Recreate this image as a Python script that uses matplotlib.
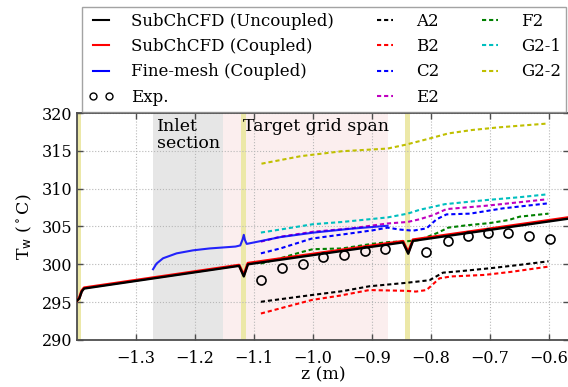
import matplotlib
matplotlib.use("Agg")
import matplotlib.pyplot as plt
from matplotlib.lines import Line2D

plt.rcParams['font.family'] = ['DejaVu Serif', 'DejaVu Sans']
plt.rcParams['mathtext.default'] = 'regular'

# ---------------- data ----------------
z_sub = [-1.400, -1.396, -1.392, -1.388, -1.125, -1.117, -1.110, -0.847, -0.838, -0.830, -0.565]
T_uncoupled = [295.2, 295.5, 296.4, 296.8, 299.8, 298.4, 300.0, 302.9, 301.4, 303.1, 306.05]
T_coupled = [295.2, 295.6, 296.5, 296.9, 299.9, 298.6, 300.15, 303.05, 301.6, 303.25, 306.2]

z_fine = [-1.271, -1.265, -1.254, -1.231, -1.203, -1.175, -1.131, -1.123, -1.119, -1.117,
          -1.115, -1.112, -1.055, -0.998, -0.936, -0.873]
T_fine = [299.35, 300.1, 300.8, 301.45, 301.85, 302.1, 302.35, 302.5, 303.3, 303.9,
          303.2, 302.7, 303.6, 304.2, 304.7, 305.1]

z_exp = [-1.087, -1.052, -1.017, -0.982, -0.947, -0.912, -0.877, -0.808, -0.771, -0.736,
         -0.703, -0.668, -0.633, -0.597]
T_exp = [297.9, 299.5, 300.1, 301.0, 301.2, 301.75, 302.05, 301.65, 303.05, 303.7,
         304.1, 304.2, 303.8, 303.4]

z_A2 = [-1.088, -1.001, -0.950, -0.904, -0.842, -0.802, -0.779, -0.749, -0.697, -0.652, -0.600]
T_A2 = [295.05, 295.95, 296.45, 297.1, 297.55, 297.9, 298.9, 299.1, 299.5, 299.9, 300.4]

z_B2 = [-1.088, -1.001, -0.955, -0.904, -0.842, -0.825, -0.807, -0.785, -0.765, -0.709, -0.664, -0.600]
T_B2 = [293.5, 295.3, 295.85, 296.6, 296.5, 296.4, 296.6, 298.15, 298.4, 298.6, 299.0, 299.7]

z_C2 = [-1.088, -1.055, -1.002, -0.935, -0.898, -0.873, -0.853, -0.830, -0.807, -0.790,
        -0.773, -0.733, -0.677, -0.602]
T_C2 = [301.45, 302.1, 303.4, 304.1, 304.5, 304.85, 304.6, 304.45, 304.75, 305.95,
        306.6, 306.7, 307.4, 308.05]

z_E2 = [-1.088, -1.055, -1.000, -0.935, -0.873, -0.839, -0.819, -0.796, -0.773, -0.705, -0.602]
T_E2 = [303.0, 303.65, 304.3, 304.75, 305.4, 305.6, 305.95, 306.5, 307.3, 307.75, 308.6]

z_F2 = [-1.088, -1.055, -1.020, -1.000, -0.950, -0.900, -0.870, -0.840, -0.820, -0.790,
        -0.770, -0.740, -0.700, -0.668, -0.649, -0.600]
T_F2 = [300.1, 300.8, 301.6, 302.0, 302.1, 302.7, 302.95, 303.05, 303.2, 304.1,
        304.85, 305.15, 305.45, 305.85, 306.3, 306.7]

z_G21 = [-1.088, -1.055, -1.000, -0.950, -0.873, -0.839, -0.819, -0.776, -0.705, -0.652, -0.602]
T_G21 = [304.2, 304.6, 305.3, 305.6, 306.2, 306.7, 307.2, 307.95, 308.5, 308.85, 309.25]

z_G22 = [-1.087, -1.020, -0.950, -0.873, -0.843, -0.808, -0.770, -0.730, -0.685, -0.603]
T_G22 = [313.3, 314.3, 314.95, 315.3, 315.8, 316.5, 317.3, 317.75, 318.1, 318.6]

inlet_span = (-1.271, -1.152)
target_span = (-1.152, -0.873)
grid_bands = [(-1.400, -1.393), (-1.121, -1.114), (-0.843, -0.835)]

x_ticks = [-1.3, -1.2, -1.1, -1.0, -0.9, -0.8, -0.7, -0.6]
y_ticks = [290, 295, 300, 305, 310, 315, 320]

# ---------------- figure ----------------
fig = plt.figure(figsize=(5.68, 3.87), dpi=100)
ax = fig.add_axes([77 / 568, 1 - 340 / 387, 1 - 77 / 568 + 0.002, (340 - 113) / 387])

ax.axvspan(*inlet_span, color='#e6e6e6', lw=0, zorder=0.1)
ax.axvspan(*target_span, color='#fbeeee', lw=0, zorder=0.1)
for b in grid_bands:
    ax.axvspan(*b, color='#ece8a8', lw=0, zorder=0.2)

ax.set_axisbelow(True)
ax.grid(True, linestyle=':', color='#b8b8b8', lw=0.8)

ds = (0, (2.0, 1.4))
lw = 1.5
ax.plot(z_A2, T_A2, color='k', ls=ds, lw=lw, zorder=3)
ax.plot(z_B2, T_B2, color='r', ls=ds, lw=lw, zorder=3)
ax.plot(z_C2, T_C2, color='b', ls=ds, lw=lw, zorder=3)
ax.plot(z_E2, T_E2, color='m', ls=ds, lw=lw, zorder=3)
ax.plot(z_F2, T_F2, color='g', ls=ds, lw=lw, zorder=3)
ax.plot(z_G21, T_G21, color='c', ls=ds, lw=lw, zorder=3)
ax.plot(z_G22, T_G22, color='y', ls=ds, lw=lw, zorder=3)

ax.plot(z_sub, T_coupled, color='r', lw=2.0, zorder=4)
ax.plot(z_sub, T_uncoupled, color='k', lw=1.7, zorder=5)
ax.plot(z_fine, T_fine, color='b', lw=1.5, zorder=4, alpha=0.85)
ax.plot(z_exp, T_exp, ls='none', marker='o', ms=6.5, mfc='none', mec='k', mew=1.2, zorder=6)

ax.text(-1.264, 319.4, 'Inlet\nsection', fontsize=12.5, va='top', ha='left', linespacing=1.0)
ax.text(-1.119, 319.4, 'Target grid span', fontsize=12.5, va='top', ha='left')

ax.set_xlim(-1.4, -0.565)
ax.set_ylim(290, 320)
ax.set_xticks(x_ticks)
ax.set_yticks(y_ticks)
ax.tick_params(direction='in', length=4, width=1, top=True, right=True,
               labelsize=11.5, colors='0.3', labelcolor='k')
ax.tick_params(axis='x', pad=7)
for s in ax.spines.values():
    s.set_color('0.3')
    s.set_linewidth(1.3)
ax.set_xlabel('z (m)', fontsize=12.5, labelpad=0)
ax.set_ylabel('T$_{\\rm w}$ ($^\\circ$C)', fontsize=12.5, labelpad=5)

handles = [
    Line2D([], [], color='k', lw=1.5),
    Line2D([], [], color='r', lw=1.5),
    Line2D([], [], color='b', lw=1.5),
    Line2D([], [], ls='none', marker='o', ms=5, mfc='none', mec='k', mew=1.0),
    Line2D([], [], color='k', ls=ds, lw=lw),
    Line2D([], [], color='r', ls=ds, lw=lw),
    Line2D([], [], color='b', ls=ds, lw=lw),
    Line2D([], [], color='m', ls=ds, lw=lw),
    Line2D([], [], color='g', ls=ds, lw=lw),
    Line2D([], [], color='c', ls=ds, lw=lw),
    Line2D([], [], color='y', ls=ds, lw=lw),
]
labels = ['SubChCFD (Uncoupled)', 'SubChCFD (Coupled)', 'Fine-mesh (Coupled)', 'Exp.',
          'A2', 'B2', 'C2', 'E2', 'F2', 'G2-1', 'G2-2']
leg = fig.legend(handles, labels, ncol=3, loc='upper left',
                 bbox_to_anchor=(82 / 568, 1 - 7 / 387), bbox_transform=fig.transFigure,
                 fontsize=12, numpoints=2, handlelength=1.55, handletextpad=1.05,
                 columnspacing=2.3, labelspacing=0.5, borderpad=0.35,
                 fancybox=False, frameon=True, edgecolor='0.55', borderaxespad=0)
leg.get_frame().set_linewidth(1.0)

fig.savefig('out.png', dpi=100)
